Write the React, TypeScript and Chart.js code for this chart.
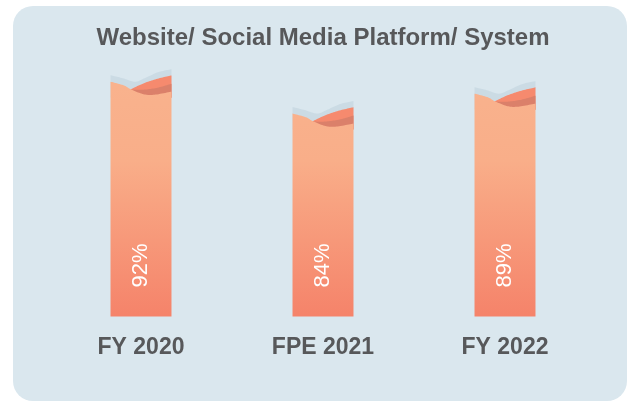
import React, { useEffect, useRef } from "react";
import { Chart, registerables } from "chart.js";

Chart.register(...registerables);

const categories = ["FY 2020", "FPE 2021", "FY 2022"];
const values = [92, 84, 89];
const valueLabels = ["92%", "84%", "89%"];
const chartTitle = "Website/ Social Media Platform/ System";
const yMin = 33;
const yMax = 96;

type P = [number, number];

// wave shapes at the top of each bar: [fraction of width, px offset from bar top]
const STRIP_TOP: P[] = [[0, -6.5], [0.2, -3.5], [0.4, 0], [0.56, -3.5], [0.78, -9.5], [1, -12.5]];
const RED_TOP: P[] = [[0.33, 7.7], [0.54, 1.7], [0.77, -3], [1, -6.3]];
const DARK_TOP: P[] = [[0.33, 8], [0.54, 8], [0.77, 6], [1, 2]];
const PEACH_TOP: P[] = [[0, 0], [0.22, 3.7], [0.33, 7.5], [0.54, 12.5], [0.72, 13], [1, 10]];

function sample(pts: P[], steps = 12): P[] {
  const out: P[] = [];
  for (let i = 0; i < pts.length - 1; i++) {
    const p0 = pts[Math.max(i - 1, 0)];
    const p1 = pts[i];
    const p2 = pts[i + 1];
    const p3 = pts[Math.min(i + 2, pts.length - 1)];
    for (let s = 0; s < steps; s++) {
      const t = s / steps;
      const t2 = t * t;
      const t3 = t2 * t;
      const f = (a: number, b: number, c: number, d: number) =>
        0.5 * (2 * b + (-a + c) * t + (2 * a - 5 * b + 4 * c - d) * t2 + (-a + 3 * b - 3 * c + d) * t3);
      out.push([f(p0[0], p1[0], p2[0], p3[0]), f(p0[1], p1[1], p2[1], p3[1])]);
    }
  }
  out.push(pts[pts.length - 1]);
  return out;
}

const FONT = "'Liberation Sans', Arial, Helvetica, sans-serif";

const wavyBars = {
  id: "wavyBars",
  afterDatasetsDraw(chart: any) {
    const ctx = chart.ctx as CanvasRenderingContext2D;
    const meta = chart.getDatasetMeta(0);
    const area = chart.chartArea;
    meta.data.forEach((el: any, i: number) => {
      const props = el.getProps(["x", "y", "base", "width"], true);
      const { x, y, width } = props;
      const base = Math.min(props.base, area.bottom);
      const L = x - width / 2;
      const T = y;
      const map = (p: P): P => [L + p[0] * width, T + p[1]];
      const low = T + 16;
      ctx.save();
      // light strip
      ctx.beginPath();
      sample(STRIP_TOP).map(map).forEach((p, k) => (k ? ctx.lineTo(p[0], p[1]) : ctx.moveTo(p[0], p[1])));
      ctx.lineTo(L + width, low);
      ctx.lineTo(L, low);
      ctx.closePath();
      ctx.fillStyle = "#cbdbe4";
      ctx.fill();
      // red back fold
      const red = sample(RED_TOP).map(map);
      ctx.beginPath();
      red.forEach((p, k) => (k ? ctx.lineTo(p[0], p[1]) : ctx.moveTo(p[0], p[1])));
      ctx.lineTo(L + width, low);
      ctx.lineTo(red[0][0], low);
      ctx.closePath();
      ctx.fillStyle = "#f68a6e";
      ctx.fill();
      // darker band
      const dark = sample(DARK_TOP).map(map);
      ctx.beginPath();
      dark.forEach((p, k) => (k ? ctx.lineTo(p[0], p[1]) : ctx.moveTo(p[0], p[1])));
      ctx.lineTo(L + width, low);
      ctx.lineTo(dark[0][0], low);
      ctx.closePath();
      ctx.fillStyle = "#db806a";
      ctx.fill();
      // main body
      const grad = ctx.createLinearGradient(0, area.top, 0, base);
      grad.addColorStop(0, "#f9b38e");
      grad.addColorStop(0.38, "#f9ae89");
      grad.addColorStop(1, "#f5836a");
      ctx.beginPath();
      sample(PEACH_TOP).map(map).forEach((p, k) => (k ? ctx.lineTo(p[0], p[1]) : ctx.moveTo(p[0], p[1])));
      ctx.lineTo(L + width, base);
      ctx.lineTo(L, base);
      ctx.closePath();
      ctx.fillStyle = grad;
      ctx.fill();
      // value label
      ctx.translate(x, base - 51);
      ctx.rotate(-Math.PI / 2);
      ctx.fillStyle = "#ffffff";
      ctx.font = `22px ${FONT}`;
      ctx.textAlign = "center";
      ctx.textBaseline = "middle";
      ctx.fillText(valueLabels[i], 0, 0);
      ctx.restore();
    });
  },
};

export default function App() {
  const ref = useRef<HTMLCanvasElement | null>(null);
  useEffect(() => {
    if (!ref.current) return;
    const chart = new Chart(ref.current, {
      type: "bar",
      data: {
        labels: categories,
        datasets: [
          {
            data: values,
            backgroundColor: "rgba(0,0,0,0)",
            borderWidth: 0,
            barPercentage: 0.335,
            categoryPercentage: 1,
          },
        ],
      },
      options: {
        animation: false,
        responsive: false,
        devicePixelRatio: 1,
        layout: { padding: { left: 50, right: 32, top: 0, bottom: 32 } },
        plugins: {
          legend: { display: false },
          tooltip: { enabled: false },
          title: {
            display: true,
            text: chartTitle,
            color: "#57585a",
            font: { family: FONT, size: 24, weight: "bold", lineHeight: 1.2 },
            padding: { top: 24, bottom: 13 },
          },
        },
        scales: {
          x: {
            grid: { display: false },
            border: { display: false },
            ticks: {
              color: "#57585a",
              font: { family: FONT, size: 23, weight: "bold", lineHeight: 1.2 },
              padding: 9,
              maxRotation: 0,
            },
          },
          y: { display: false, min: yMin, max: yMax },
        },
      },
      plugins: [wavyBars],
    });
    return () => chart.destroy();
  }, []);
  return (
    <div style={{ position: "fixed", left: 0, top: 0, width: 628, height: 402, background: "#ffffff", overflow: "hidden" }}>
      <div
        style={{
          position: "absolute",
          left: 13,
          top: 6,
          width: 614,
          height: 395,
          borderRadius: 20,
          background: "#dae7ee",
        }}
      />
      <canvas ref={ref} width={628} height={402} style={{ position: "absolute", left: 0, top: 0, width: 628, height: 402 }} />
    </div>
  );
}
